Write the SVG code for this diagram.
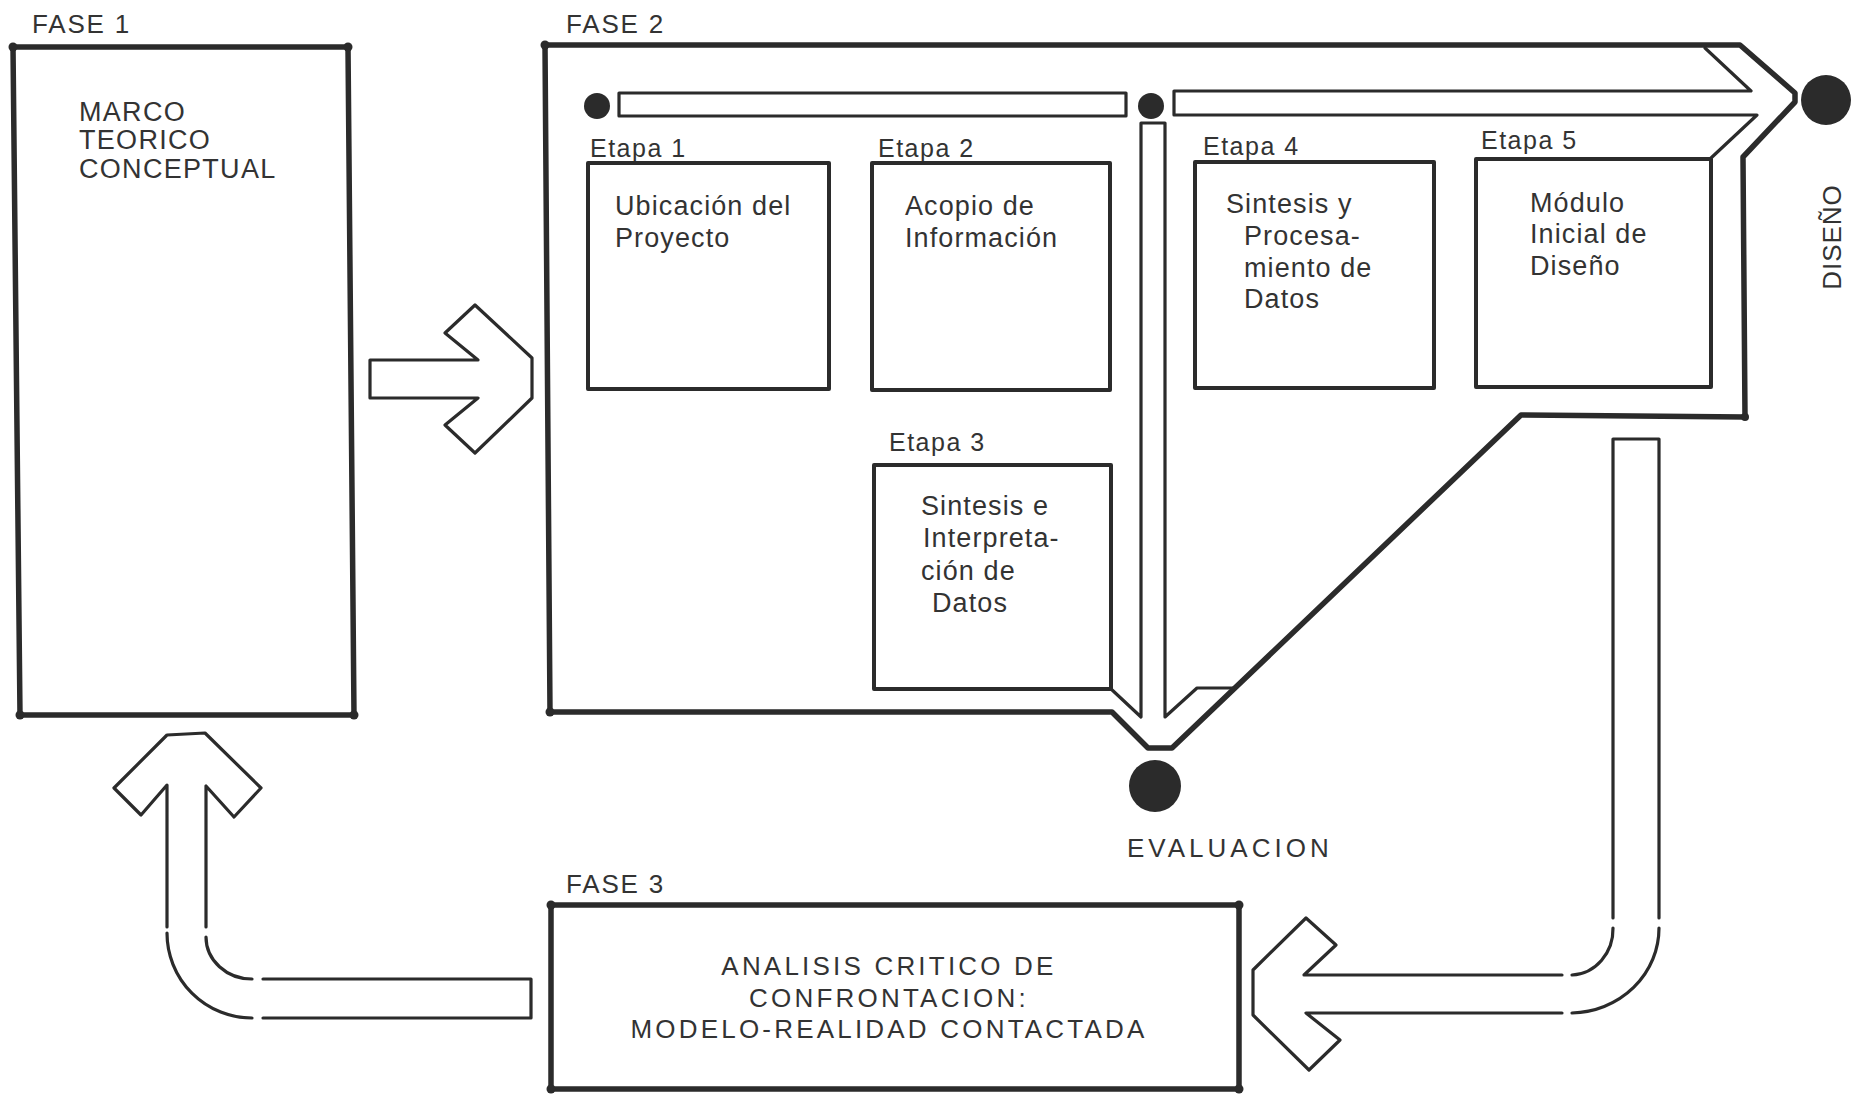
<svg xmlns="http://www.w3.org/2000/svg" width="1851" height="1095" viewBox="0 0 1851 1095">
<style>
  .bg { fill: #ffffff; }
  .thick { fill: none; stroke: #2b2b2b; stroke-width: 5.5; stroke-linejoin: round; stroke-linecap: round; }
  .box { fill: none; stroke: #2b2b2b; stroke-width: 4; stroke-linejoin: round; stroke-linecap: round; }
  .thin { fill: none; stroke: #2b2b2b; stroke-width: 3.2; stroke-linejoin: round; stroke-linecap: round; }
  .dot { fill: #2b2b2b; }
  .blob { fill: #2b2b2b; }
  text { font-family: "Liberation Sans", Arial, sans-serif; fill: #333333; }
  .phase { font-size: 26px; letter-spacing: 1.8px; }
  .etapa { font-size: 25px; letter-spacing: 1.5px; }
  .body { font-size: 27px; letter-spacing: 1.1px; }
  .caps { font-size: 27px; letter-spacing: 1.3px; }
  .f3 { font-size: 26px; letter-spacing: 3.2px; text-anchor: middle; }
</style>
<rect class="bg" x="0" y="0" width="1851" height="1095"/>

<g id="fase1">
  <text class="phase" x="32" y="33">FASE 1</text>
  <polygon class="thick" points="13,47 348,47 354,715 20,715"/>
  <circle class="blob" cx="13" cy="47" r="4.5"/>
  <circle class="blob" cx="348" cy="47" r="4.5"/>
  <circle class="blob" cx="354" cy="715" r="4.5"/>
  <circle class="blob" cx="20" cy="715" r="4.5"/>
  <text class="caps" x="79" y="121">MARCO</text>
  <text class="caps" x="79" y="149">TEORICO</text>
  <text class="caps" x="79" y="178">CONCEPTUAL</text>
</g>

<g id="fase2">
  <text class="phase" x="566" y="33">FASE 2</text>
  <path class="thick" d="M545,45 L1740,45 L1795,93 L1795,102 L1743,157 L1745,417 L1521,415 L1172,748 L1148,748 L1112,712 L550,712 Z"/>
  <circle class="blob" cx="545" cy="45" r="4.5"/>
  <circle class="blob" cx="550" cy="712" r="4.5"/>
  <circle class="blob" cx="1745" cy="417" r="4"/>
</g>

<g id="etapa1">
  <text class="etapa" x="590" y="157">Etapa 1</text>
  <rect class="box" x="588" y="163" width="241" height="226"/>
  <text class="body" x="615" y="215">Ubicación del</text>
  <text class="body" x="615" y="247">Proyecto</text>
</g>

<g id="etapa2">
  <text class="etapa" x="878" y="157">Etapa 2</text>
  <rect class="box" x="872" y="163" width="238" height="227"/>
  <text class="body" x="905" y="215">Acopio de</text>
  <text class="body" x="905" y="247">Información</text>
</g>

<g id="etapa3">
  <text class="etapa" x="889" y="451">Etapa 3</text>
  <rect class="box" x="874" y="465" width="237" height="224"/>
  <text class="body" x="921" y="515">Sintesis e</text>
  <text class="body" x="923" y="547">Interpreta-</text>
  <text class="body" x="921" y="580">ción de</text>
  <text class="body" x="932" y="612">Datos</text>
</g>

<g id="etapa4">
  <text class="etapa" x="1203" y="155">Etapa 4</text>
  <rect class="box" x="1195" y="162" width="239" height="226"/>
  <text class="body" x="1226" y="213">Sintesis y</text>
  <text class="body" x="1244" y="245">Procesa-</text>
  <text class="body" x="1244" y="277">miento de</text>
  <text class="body" x="1244" y="308">Datos</text>
</g>

<g id="etapa5">
  <text class="etapa" x="1481" y="149">Etapa 5</text>
  <rect class="box" x="1476" y="159" width="235" height="228"/>
  <text class="body" x="1530" y="212">Módulo</text>
  <text class="body" x="1530" y="243">Inicial de</text>
  <text class="body" x="1530" y="275">Diseño</text>
</g>

<g id="diseno">
  <circle class="dot" cx="1826" cy="100" r="25"/>
  <text class="phase" style="letter-spacing:1px" text-anchor="middle" transform="translate(1841,237) rotate(-90)">DISEÑO</text>
</g>

<g id="evaluacion">
  <circle class="dot" cx="1155" cy="786" r="26"/>
  <text class="phase" style="letter-spacing:4px" x="1127" y="857">EVALUACION</text>
</g>

<g id="fase3">
  <text class="phase" x="566" y="893">FASE 3</text>
  <polygon class="thick" points="551,905 1239,905 1239,1089 551,1089"/>
  <circle class="blob" cx="551" cy="905" r="4.5"/>
  <circle class="blob" cx="1239" cy="905" r="4.5"/>
  <circle class="blob" cx="551" cy="1089" r="4.5"/>
  <circle class="blob" cx="1239" cy="1089" r="4.5"/>
  <text class="f3" x="889" y="975">ANALISIS CRITICO DE</text>
  <text class="f3" x="889" y="1007">CONFRONTACION:</text>
  <text class="f3" x="889" y="1038">MODELO-REALIDAD CONTACTADA</text>
</g>

<g id="connectors">
  <circle class="dot" cx="597" cy="106" r="13"/>
  <rect class="thin" x="619" y="93" width="507" height="23"/>
  <circle class="dot" cx="1151" cy="106" r="13"/>
  <path class="thin" d="M1705,48 L1751,91 L1174,91 L1174,115 L1757,115 L1711,158"/>
  <path class="thin" d="M1110,688 L1141,717 L1141,123 L1165,123 L1165,717 L1197,688 L1233,688"/>
  <polygon class="thin" points="370,360 478,360 445,333 475,305 532,358 532,398 475,453 445,425 478,398 370,398"/>
  <path class="thin" d="M167,927 L167,785 L141,815 L114,788 L167,735 L205,733 L261,788 L234,817 L206,786 L206,927"/>
  <path class="thin" d="M167,933 A85,85 0 0 0 252,1018"/>
  <path class="thin" d="M206,937 A46,42 0 0 0 252,979"/>
  <path class="thin" d="M263,979 L531,979 L531,1018 L263,1018"/>
  <path class="thin" d="M1613,918 L1613,439 L1659,439 L1659,918"/>
  <path class="thin" d="M1613,928 A43,46 0 0 1 1572,975"/>
  <path class="thin" d="M1659,928 A89,85 0 0 1 1572,1013"/>
  <path class="thin" d="M1562,975 L1304,975 L1336,945 L1306,918 L1253,970 L1253,1015 L1309,1070 L1340,1040 L1306,1013 L1562,1013"/>
</g>
</svg>
